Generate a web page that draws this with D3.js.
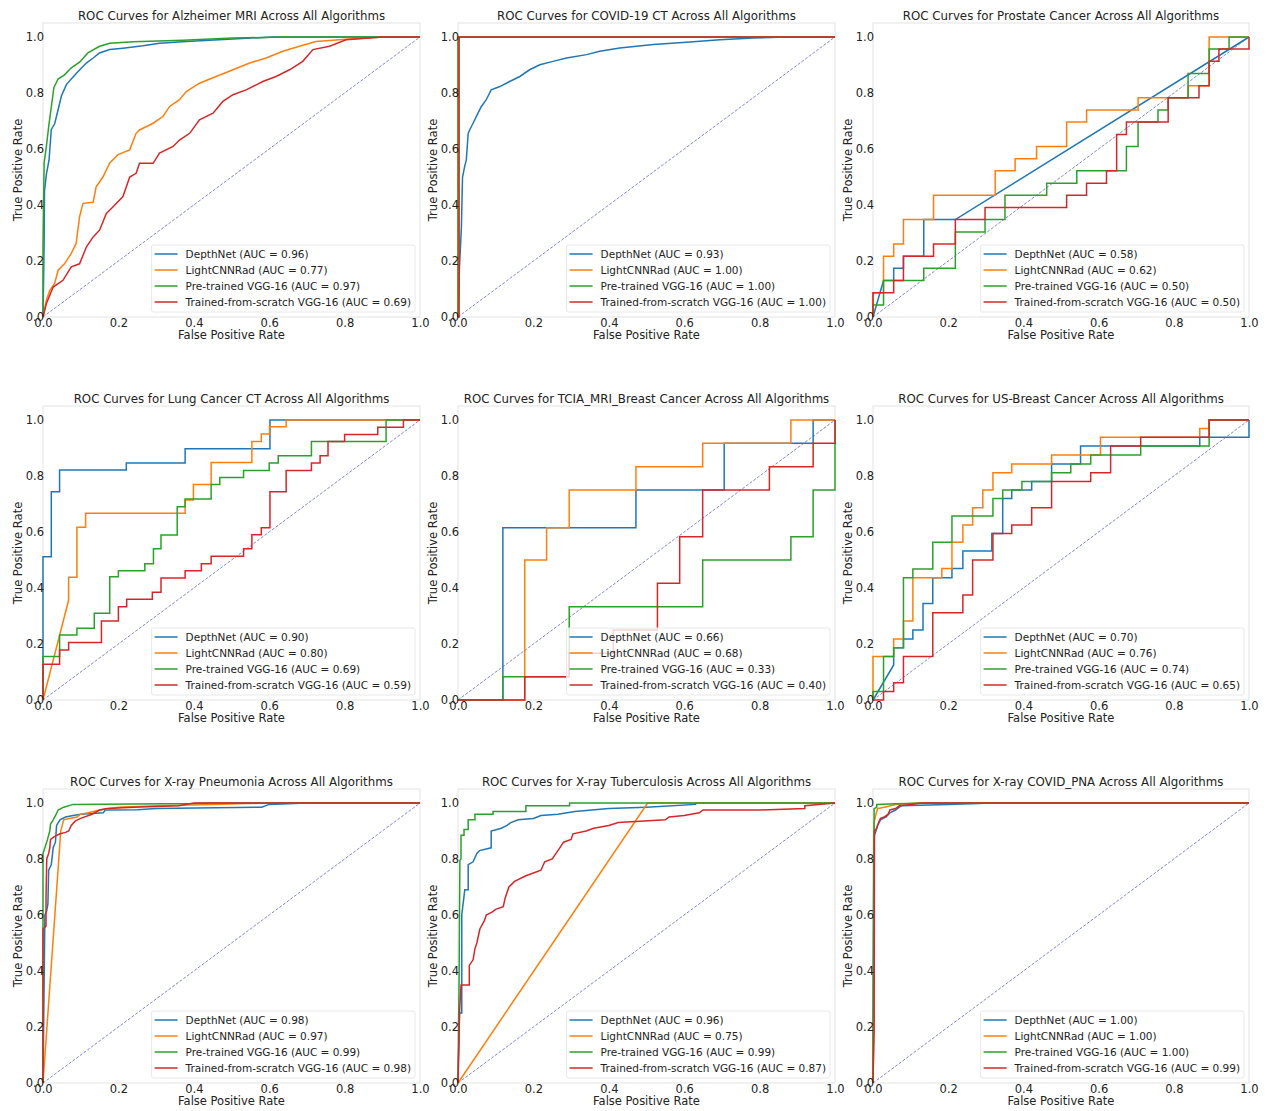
<!DOCTYPE html>
<html><head><meta charset="utf-8">
<script src="https://cdn.jsdelivr.net/npm/d3@7"></script>
<style>body{margin:0;background:#fff;} svg{display:block;font-family:"DejaVu Sans",sans-serif;}</style>
</head><body>
<svg id="chart" width="1266" height="1111"></svg>
<script>
// ---------- DATA ----------
const panelTitles = [
  "ROC Curves for Alzheimer MRI Across All Algorithms",
  "ROC Curves for COVID-19 CT Across All Algorithms",
  "ROC Curves for Prostate Cancer Across All Algorithms",
  "ROC Curves for Lung Cancer CT Across All Algorithms",
  "ROC Curves for TCIA_MRI_Breast Cancer Across All Algorithms",
  "ROC Curves for US-Breast Cancer Across All Algorithms",
  "ROC Curves for X-ray Pneumonia Across All Algorithms",
  "ROC Curves for X-ray Tuberculosis Across All Algorithms",
  "ROC Curves for X-ray COVID_PNA Across All Algorithms"
];
const modelNames = ["DepthNet", "LightCNNRad", "Pre-trained VGG-16", "Trained-from-scratch VGG-16"];
const aucValues = [
  [0.96, 0.77, 0.97, 0.69],
  [0.93, 1.00, 1.00, 1.00],
  [0.58, 0.62, 0.50, 0.50],
  [0.90, 0.80, 0.69, 0.59],
  [0.66, 0.68, 0.33, 0.40],
  [0.70, 0.76, 0.74, 0.65],
  [0.98, 0.97, 0.99, 0.98],
  [0.96, 0.75, 0.99, 0.87],
  [1.00, 1.00, 1.00, 0.99]
];
const tickValues = [0, 0.2, 0.4, 0.6, 0.8, 1.0];
const modelColors = ["#1f77b4", "#ff7f0e", "#2ca02c", "#d62728"];

// ROC points [fpr, tpr]
const alzDepth = [[0,0],[0.003,0.26],[0.004,0.45],[0.009,0.51],[0.016,0.56],[0.022,0.67],[0.031,0.69],[0.04,0.74],[0.049,0.79],[0.062,0.83],[0.075,0.85],[0.093,0.877],[0.115,0.907],[0.133,0.925],[0.15,0.943],[0.177,0.955],[0.212,0.96],[0.265,0.969],[0.309,0.978],[0.38,0.984],[0.504,0.993],[0.61,1],[1,1]];
const alzLight = [[0,0],[0.009,0.06],[0.018,0.095],[0.031,0.12],[0.04,0.167],[0.057,0.19],[0.075,0.227],[0.088,0.263],[0.097,0.358],[0.106,0.406],[0.133,0.41],[0.141,0.465],[0.159,0.5],[0.177,0.55],[0.199,0.58],[0.23,0.597],[0.247,0.656],[0.256,0.668],[0.292,0.692],[0.318,0.716],[0.336,0.752],[0.362,0.776],[0.38,0.805],[0.415,0.835],[0.459,0.859],[0.504,0.883],[0.548,0.907],[0.592,0.925],[0.636,0.949],[0.68,0.967],[0.724,0.984],[0.813,0.993],[0.901,1],[1,1]];
const alzPre = [[0,0],[0,0.25],[0.003,0.55],[0.009,0.61],[0.016,0.69],[0.022,0.75],[0.029,0.82],[0.04,0.85],[0.057,0.865],[0.075,0.89],[0.097,0.91],[0.119,0.943],[0.15,0.967],[0.177,0.978],[0.239,0.983],[0.371,0.988],[0.504,0.996],[0.636,1],[1,1]];
const alzScratch = [[0,0],[0.009,0.048],[0.027,0.107],[0.053,0.131],[0.075,0.179],[0.097,0.19],[0.115,0.25],[0.133,0.286],[0.15,0.31],[0.168,0.37],[0.186,0.394],[0.212,0.43],[0.23,0.5],[0.247,0.513],[0.256,0.549],[0.292,0.549],[0.309,0.585],[0.345,0.609],[0.362,0.632],[0.389,0.656],[0.415,0.704],[0.451,0.728],[0.477,0.77],[0.504,0.794],[0.539,0.811],[0.583,0.841],[0.618,0.859],[0.654,0.883],[0.689,0.913],[0.716,0.955],[0.76,0.967],[0.804,0.99],[0.901,1],[1,1]];

const covidDepth = [[0,0],[0.004,0.18],[0.009,0.32],[0.012,0.5],[0.018,0.54],[0.022,0.56],[0.027,0.656],[0.031,0.668],[0.04,0.692],[0.053,0.728],[0.062,0.752],[0.075,0.776],[0.088,0.811],[0.111,0.823],[0.137,0.841],[0.164,0.859],[0.19,0.883],[0.217,0.901],[0.252,0.913],[0.288,0.925],[0.341,0.937],[0.376,0.949],[0.429,0.961],[0.518,0.973],[0.606,0.981],[0.695,0.99],[0.783,0.996],[0.872,1],[1,1]];
const covidLight = [[0,0],[0,1],[1,1]];
const covidPre = [[0,0],[0,0.985],[0.006,1],[1,1]];
const covidScratch = [[0,0],[0.003,0],[0.003,1],[1,1]];

const prosDepth = [[0,0],[0.028,0.13],[0.055,0.13],[0.055,0.174],[0.081,0.174],[0.081,0.217],[0.135,0.217],[0.135,0.348],[0.219,0.348],[1,1]];
const prosLight = [[0,0],[0,0.087],[0.028,0.087],[0.028,0.217],[0.055,0.217],[0.055,0.261],[0.081,0.261],[0.081,0.348],[0.161,0.348],[0.161,0.435],[0.325,0.435],[0.325,0.522],[0.378,0.522],[0.378,0.565],[0.435,0.565],[0.435,0.609],[0.515,0.609],[0.515,0.696],[0.568,0.696],[0.568,0.739],[0.705,0.739],[0.705,0.783],[0.838,0.783],[0.838,0.826],[0.894,0.826],[0.894,1],[1,1]];
const prosPre = [[0,0],[0,0.043],[0.028,0.043],[0.028,0.13],[0.135,0.13],[0.135,0.174],[0.219,0.174],[0.219,0.304],[0.298,0.304],[0.298,0.348],[0.351,0.348],[0.351,0.435],[0.462,0.435],[0.462,0.478],[0.542,0.478],[0.542,0.522],[0.674,0.522],[0.674,0.609],[0.705,0.609],[0.705,0.696],[0.758,0.696],[0.758,0.739],[0.785,0.739],[0.785,0.783],[0.838,0.783],[0.838,0.87],[0.894,0.87],[0.894,0.957],[0.947,0.957],[0.947,1],[1,1]];
const prosScratch = [[0,0],[0,0.087],[0.055,0.087],[0.055,0.13],[0.081,0.13],[0.081,0.217],[0.161,0.217],[0.161,0.261],[0.219,0.261],[0.219,0.348],[0.298,0.348],[0.298,0.391],[0.515,0.391],[0.515,0.435],[0.568,0.435],[0.568,0.478],[0.621,0.478],[0.621,0.522],[0.648,0.522],[0.648,0.652],[0.674,0.652],[0.674,0.696],[0.785,0.696],[0.785,0.783],[0.867,0.783],[0.867,0.826],[0.894,0.826],[0.894,0.913],[0.92,0.913],[0.92,0.957],[1,0.957],[1,1]];

const lungDepth = [[0,0],[0,0.512],[0.022,0.512],[0.022,0.744],[0.044,0.744],[0.044,0.821],[0.221,0.821],[0.221,0.846],[0.377,0.846],[0.377,0.897],[0.602,0.897],[0.602,1],[1,1]];
const lungLight = [[0,0],[0.068,0.357],[0.068,0.438],[0.09,0.438],[0.09,0.617],[0.113,0.617],[0.113,0.667],[0.377,0.667],[0.377,0.714],[0.399,0.714],[0.399,0.77],[0.446,0.77],[0.446,0.848],[0.554,0.848],[0.554,0.923],[0.579,0.923],[0.579,0.95],[0.601,0.95],[0.601,0.976],[0.645,0.976],[0.645,1],[1,1]];
const lungPre = [[0,0],[0,0.155],[0.044,0.155],[0.044,0.232],[0.09,0.232],[0.09,0.256],[0.136,0.256],[0.136,0.31],[0.177,0.31],[0.177,0.44],[0.2,0.44],[0.2,0.462],[0.27,0.462],[0.27,0.487],[0.293,0.487],[0.293,0.54],[0.313,0.54],[0.313,0.589],[0.356,0.589],[0.356,0.69],[0.377,0.69],[0.377,0.718],[0.446,0.718],[0.446,0.77],[0.469,0.77],[0.469,0.795],[0.532,0.795],[0.532,0.82],[0.6,0.82],[0.6,0.846],[0.624,0.846],[0.624,0.872],[0.712,0.872],[0.712,0.923],[0.91,0.923],[0.91,1],[1,1]];
const lungScratch = [[0,0],[0,0.128],[0.044,0.128],[0.044,0.179],[0.068,0.179],[0.068,0.205],[0.155,0.205],[0.155,0.282],[0.2,0.282],[0.2,0.333],[0.222,0.333],[0.222,0.36],[0.29,0.36],[0.29,0.385],[0.313,0.385],[0.313,0.436],[0.377,0.436],[0.377,0.462],[0.42,0.462],[0.42,0.487],[0.446,0.487],[0.446,0.513],[0.532,0.513],[0.532,0.54],[0.554,0.54],[0.554,0.59],[0.579,0.59],[0.579,0.615],[0.602,0.615],[0.602,0.744],[0.645,0.744],[0.645,0.82],[0.712,0.82],[0.712,0.846],[0.735,0.846],[0.735,0.872],[0.756,0.872],[0.756,0.923],[0.8,0.923],[0.8,0.948],[0.888,0.948],[0.888,0.974],[0.956,0.974],[0.956,1],[1,1]];

const tciaDepth = [[0,0],[0.119,0],[0.119,0.615],[0.472,0.615],[0.472,0.75],[0.706,0.75],[0.706,0.917],[0.942,0.917],[0.942,1],[1,1]];
const tciaLight = [[0,0],[0.177,0],[0.177,0.5],[0.235,0.5],[0.235,0.615],[0.295,0.615],[0.295,0.75],[0.472,0.75],[0.472,0.833],[0.649,0.833],[0.649,0.917],[0.883,0.917],[0.883,1],[1,1]];
const tciaPre = [[0,0],[0.119,0],[0.119,0.083],[0.295,0.083],[0.295,0.333],[0.649,0.333],[0.649,0.5],[0.883,0.5],[0.883,0.583],[0.942,0.583],[0.942,0.75],[1,0.75],[1,1]];
const tciaScratch = [[0,0],[0.177,0],[0.177,0.083],[0.295,0.083],[0.295,0.167],[0.412,0.167],[0.412,0.25],[0.529,0.25],[0.529,0.417],[0.588,0.417],[0.588,0.583],[0.649,0.583],[0.649,0.75],[0.826,0.75],[0.826,0.833],[0.942,0.833],[0.942,0.917],[1,0.917],[1,1]];

const usDepth = [[0,0],[0.055,0.125],[0.055,0.187],[0.081,0.187],[0.081,0.218],[0.106,0.218],[0.106,0.25],[0.133,0.25],[0.133,0.345],[0.159,0.345],[0.159,0.437],[0.21,0.437],[0.21,0.47],[0.239,0.47],[0.239,0.532],[0.316,0.532],[0.316,0.595],[0.345,0.595],[0.345,0.72],[0.369,0.72],[0.369,0.75],[0.422,0.75],[0.422,0.78],[0.475,0.78],[0.475,0.843],[0.552,0.843],[0.552,0.907],[0.869,0.907],[0.869,0.938],[1,0.938],[1,1]];
const usLight = [[0,0],[0,0.155],[0.055,0.155],[0.055,0.218],[0.081,0.218],[0.081,0.282],[0.106,0.282],[0.106,0.437],[0.183,0.437],[0.183,0.47],[0.21,0.47],[0.21,0.563],[0.239,0.563],[0.239,0.625],[0.265,0.625],[0.265,0.687],[0.292,0.687],[0.292,0.75],[0.319,0.75],[0.319,0.812],[0.369,0.812],[0.369,0.843],[0.475,0.843],[0.475,0.875],[0.605,0.875],[0.605,0.938],[0.869,0.938],[0.869,0.97],[0.894,0.97],[0.894,1],[1,1]];
const usPre = [[0,0],[0,0.03],[0.028,0.03],[0.028,0.155],[0.055,0.155],[0.055,0.187],[0.081,0.187],[0.081,0.437],[0.106,0.437],[0.106,0.468],[0.159,0.468],[0.159,0.563],[0.21,0.563],[0.21,0.657],[0.319,0.657],[0.319,0.72],[0.345,0.72],[0.345,0.75],[0.396,0.75],[0.396,0.78],[0.475,0.78],[0.475,0.812],[0.526,0.812],[0.526,0.843],[0.579,0.843],[0.579,0.875],[0.712,0.875],[0.712,0.907],[0.894,0.907],[0.894,1],[1,1]];
const usScratch = [[0,0],[0.028,0],[0.028,0.03],[0.055,0.03],[0.055,0.062],[0.081,0.062],[0.081,0.155],[0.159,0.155],[0.159,0.312],[0.239,0.312],[0.239,0.375],[0.265,0.375],[0.265,0.5],[0.319,0.5],[0.319,0.595],[0.369,0.595],[0.369,0.625],[0.422,0.625],[0.422,0.687],[0.475,0.687],[0.475,0.78],[0.579,0.78],[0.579,0.812],[0.632,0.812],[0.632,0.907],[0.712,0.907],[0.712,0.938],[0.894,0.938],[0.894,1],[1,1]];

const pneuDepth = [[0,0],[0.005,0.6],[0.009,0.61],[0.013,0.64],[0.015,0.76],[0.022,0.78],[0.027,0.84],[0.033,0.86],[0.036,0.92],[0.045,0.94],[0.06,0.95],[0.08,0.955],[0.1,0.96],[0.16,0.965],[0.165,0.975],[0.25,0.976],[0.3,0.98],[0.58,0.985],[0.6,0.995],[0.7,1],[1,1]];
const pneuLight = [[0,0],[0.043,0.82],[0.047,0.9],[0.055,0.94],[0.07,0.945],[0.09,0.95],[0.1,0.96],[0.12,0.965],[0.15,0.975],[0.2,0.985],[0.3,0.99],[0.45,0.995],[0.6,1],[1,1]];
const pneuPre = [[0,0],[0,0.82],[0.005,0.84],[0.012,0.87],[0.018,0.9],[0.02,0.925],[0.027,0.94],[0.035,0.96],[0.04,0.975],[0.055,0.985],[0.08,0.995],[0.4,0.998],[0.44,1],[1,1]];
const pneuScratch = [[0,0],[0,0.55],[0.008,0.56],[0.008,0.66],[0.01,0.8],[0.015,0.82],[0.018,0.84],[0.02,0.87],[0.03,0.88],[0.045,0.89],[0.06,0.895],[0.068,0.9],[0.075,0.92],[0.085,0.935],[0.1,0.945],[0.13,0.96],[0.15,0.975],[0.17,0.98],[0.24,0.985],[0.36,0.99],[0.4,1],[1,1]];

const tbDepth = [[0,0],[0.004,0.25],[0.01,0.25],[0.01,0.6],[0.018,0.69],[0.027,0.69],[0.027,0.78],[0.04,0.79],[0.05,0.82],[0.057,0.83],[0.088,0.84],[0.088,0.9],[0.115,0.91],[0.13,0.92],[0.14,0.93],[0.16,0.94],[0.2,0.945],[0.22,0.955],[0.265,0.96],[0.31,0.97],[0.4,0.98],[0.5,0.985],[0.63,0.995],[0.63,1],[1,1]];
const tbLight = [[0,0],[0.503,1],[1,1]];
const tbPre = [[0,0],[0.003,0.38],[0.005,0.795],[0.008,0.8],[0.008,0.885],[0.016,0.885],[0.016,0.905],[0.027,0.905],[0.027,0.94],[0.045,0.94],[0.045,0.96],[0.093,0.96],[0.093,0.97],[0.18,0.97],[0.18,0.99],[0.296,0.99],[0.296,1],[1,1]];
const tbScratch = [[0,0],[0.004,0.25],[0.008,0.35],[0.03,0.35],[0.03,0.42],[0.04,0.44],[0.045,0.48],[0.05,0.5],[0.058,0.55],[0.07,0.58],[0.075,0.6],[0.09,0.61],[0.1,0.62],[0.12,0.63],[0.125,0.66],[0.135,0.7],[0.15,0.72],[0.18,0.74],[0.2,0.75],[0.22,0.76],[0.23,0.79],[0.25,0.8],[0.26,0.82],[0.27,0.84],[0.28,0.86],[0.3,0.87],[0.305,0.89],[0.34,0.9],[0.36,0.91],[0.4,0.92],[0.425,0.93],[0.55,0.94],[0.56,0.95],[0.6,0.955],[0.64,0.965],[0.65,0.975],[0.8,0.975],[0.92,0.98],[0.92,0.99],[1,1]];

const cpnaDepth = [[0,0],[0.002,0.88],[0.008,0.9],[0.012,0.92],[0.02,0.94],[0.035,0.95],[0.045,0.965],[0.06,0.975],[0.07,0.985],[0.075,0.99],[0.2,0.995],[0.32,1],[1,1]];
const cpnaLight = [[0,0],[0.002,0.2],[0.003,0.93],[0.008,0.96],[0.012,0.98],[0.03,0.985],[0.06,0.995],[0.12,1],[1,1]];
const cpnaPre = [[0,0],[0,0.19],[0.003,0.98],[0.01,0.985],[0.01,0.995],[0.06,0.997],[0.155,1],[1,1]];
const cpnaScratch = [[0,0],[0.003,0.19],[0.004,0.9],[0.01,0.91],[0.015,0.93],[0.02,0.945],[0.03,0.95],[0.04,0.96],[0.045,0.975],[0.06,0.98],[0.07,0.99],[0.1,0.995],[0.13,1],[1,1]];

const panelCurves = [
  [alzDepth, alzLight, alzPre, alzScratch],
  [covidDepth, covidLight, covidPre, covidScratch],
  [prosDepth, prosLight, prosPre, prosScratch],
  [lungDepth, lungLight, lungPre, lungScratch],
  [tciaDepth, tciaLight, tciaPre, tciaScratch],
  [usDepth, usLight, usPre, usScratch],
  [pneuDepth, pneuLight, pneuPre, pneuScratch],
  [tbDepth, tbLight, tbPre, tbScratch],
  [cpnaDepth, cpnaLight, cpnaPre, cpnaScratch]
];

// ---------- LAYOUT ----------
const colX0 = [43, 458, 873], colX1 = [420, 835, 1249];
const rowY0 = [317, 700, 1083];
const unitH = 280;

const svg = d3.select("#chart");
const fmt = d3.format(".1f");

panelTitles.forEach((title, i) => {
  const r = Math.floor(i / 3), c = i % 3;
  const x = d3.scaleLinear().domain([0, 1]).range([colX0[c], colX1[c]]);
  const y = d3.scaleLinear().domain([0, 1.05]).range([rowY0[r], rowY0[r] - unitH * 1.05]);
  const g = svg.append("g");

  // frame (light spines)
  g.append("rect")
    .attr("x", x(0)).attr("y", y(1.05))
    .attr("width", x(1) - x(0)).attr("height", y(0) - y(1.05))
    .attr("fill", "none").attr("stroke", "#e3e3e3").attr("stroke-width", 1);

  // diagonal
  g.append("line")
    .attr("x1", x(0)).attr("y1", y(0)).attr("x2", x(1)).attr("y2", y(1))
    .attr("stroke", "#4b4bc8").attr("stroke-width", 0.8)
    .attr("stroke-dasharray", "3,1.6").attr("opacity", 0.85);

  const line = d3.line().x(d => x(d[0])).y(d => y(d[1]));
  panelCurves[i].forEach((pts, k) => {
    g.append("path").datum(pts)
      .attr("d", line)
      .attr("fill", "none")
      .attr("stroke", modelColors[k])
      .attr("stroke-width", 1.5)
      .attr("stroke-linejoin", "miter");
  });

  // axes
  const xAxis = d3.axisBottom(x).tickValues(tickValues).tickFormat(fmt).tickSize(0).tickPadding(2);
  const yAxis = d3.axisLeft(y).tickValues(tickValues).tickFormat(fmt).tickSize(0).tickPadding(0);
  const gx = g.append("g").attr("transform", `translate(0,${y(0)})`).call(xAxis);
  const gy = g.append("g").attr("transform", `translate(${x(0) + 1},0)`).call(yAxis);
  [gx, gy].forEach(a => {
    a.select(".domain").remove();
    a.selectAll("text").attr("font-family", "DejaVu Sans").attr("font-size", 11.5).attr("fill", "#222");
  });

  // title
  g.append("text")
    .attr("x", (x(0) + x(1)) / 2).attr("y", y(1.05) - 3)
    .attr("text-anchor", "middle").attr("font-size", 11.8).attr("fill", "#222")
    .text(title);
  // axis labels
  g.append("text")
    .attr("x", (x(0) + x(1)) / 2).attr("y", y(0) + 22)
    .attr("text-anchor", "middle").attr("font-size", 11.5).attr("fill", "#222")
    .text("False Positive Rate");
  g.append("text")
    .attr("transform", `translate(${x(0) - 25},${(y(0) + y(1.05)) / 2}) rotate(-90)`)
    .attr("text-anchor", "middle").attr("dominant-baseline", "central")
    .attr("font-size", 11.5).attr("fill", "#222")
    .text("True Positive Rate");

  // legend
  const lg = g.append("g");
  const box = lg.append("rect");
  const texts = modelNames.map((name, k) =>
    lg.append("text").attr("font-size", 10.5).attr("fill", "#222")
      .attr("dominant-baseline", "central")
      .text(`${name} (AUC = ${aucValues[i][k].toFixed(2)})`));
  const maxW = d3.max(texts, t => t.node().getComputedTextLength());
  const lw = maxW + 38, lh = 67;
  const lx = x(1) - 5 - lw, ly = y(0) - 5 - lh;
  box.attr("x", lx).attr("y", ly).attr("width", lw).attr("height", lh)
    .attr("rx", 2).attr("fill", "rgba(255,255,255,0.8)").attr("stroke", "#e8e8e8");
  modelNames.forEach((name, k) => {
    const cy = ly + 9 + k * 16;
    lg.append("line").attr("x1", lx + 3).attr("x2", lx + 26).attr("y1", cy).attr("y2", cy)
      .attr("stroke", modelColors[k]).attr("stroke-width", 1.5);
    texts[k].attr("x", lx + 34).attr("y", cy);
  });
});
</script>
</body></html>
